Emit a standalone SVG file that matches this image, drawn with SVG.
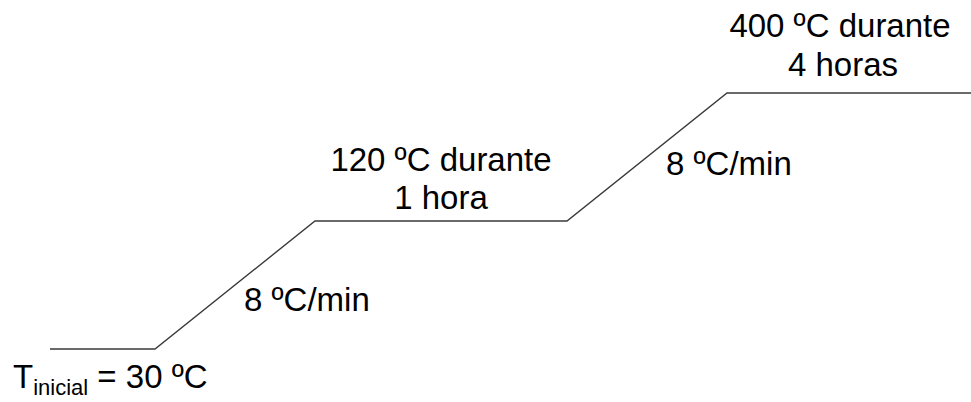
<svg xmlns="http://www.w3.org/2000/svg" width="971" height="402" viewBox="0 0 971 402">
<style>
.t{font-family:"Liberation Sans",Arial,sans-serif;font-size:33px;fill:#000}
.s{font-size:22px}
.ln{fill:none;stroke:#3a3a3a;stroke-width:1.4;stroke-linejoin:miter}
</style>
<rect width="971" height="402" fill="#fff"/>
<g id="connectors">
<polyline class="ln" points="50,349 155,349 315,221 567,221 727,93 971,93"/>
</g>
<g id="start">
<text class="t" x="13" y="388">T<tspan class="s" dy="7">inicial</tspan><tspan dy="-7"> = 30 ºC</tspan></text>
</g>
<g id="ramp1">
<text class="t" x="244" y="311">8 ºC/min</text>
</g>
<g id="hold1">
<text class="t" x="441" y="171" text-anchor="middle">120 ºC durante</text>
<text class="t" x="441" y="209" text-anchor="middle">1 hora</text>
</g>
<g id="ramp2">
<text class="t" x="666" y="175">8 ºC/min</text>
</g>
<g id="hold2">
<text class="t" x="840" y="37" text-anchor="middle">400 ºC durante</text>
<text class="t" x="843" y="76" text-anchor="middle">4 horas</text>
</g>
</svg>
